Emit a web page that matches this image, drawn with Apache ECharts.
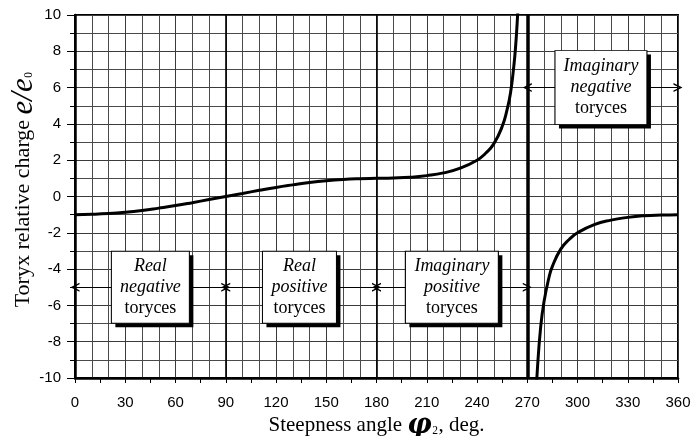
<!DOCTYPE html>
<html>
<head>
<meta charset="utf-8">
<script src="https://cdn.jsdelivr.net/npm/echarts@6/dist/echarts.min.js"></script>
<style>
  html, body { margin: 0; padding: 0; background: #fff; }
  #chart { width: 690px; height: 436px; }
</style>
</head>
<body>
<div id="chart"></div>
<script>
// branch left of the 270 deg asymptote
var realAngles = [0, 10, 20, 30, 40, 50, 60, 70, 80, 90, 100, 110, 120, 130, 140, 150, 160, 170, 180,
  190, 200, 210, 220, 230, 240, 245, 250, 255, 258, 260, 262, 263, 264, 265, 266]
var realValues = [-1.0, -0.98, -0.94, -0.87, -0.77, -0.64, -0.5, -0.34, -0.17, 0, 0.17, 0.34, 0.5, 0.64, 0.77, 0.87, 0.94, 0.98, 1.0,
  1.02, 1.06, 1.15, 1.3, 1.56, 2.0, 2.37, 2.9, 3.85, 4.8, 5.7, 7.2, 8.2, 9.6, 11.5, 14.3]
// branch right of the asymptote
var imagAngles = [274, 275, 276, 278, 280, 283, 285, 290, 295, 300, 310, 320, 330, 340, 350, 360]
var imagValues = [-14.3, -11.5, -9.6, -7.2, -5.8, -4.45, -3.85, -2.9, -2.37, -2.0, -1.55, -1.3, -1.15, -1.06, -1.02, -1.0]

var xTicks = [0, 30, 60, 90, 120, 150, 180, 210, 240, 270, 300, 330, 360]
var yTicks = [-10, -8, -6, -4, -2, 0, 2, 4, 6, 8, 10]

// region annotations: [x, y, line1, line2, line3]
var regionBoxes = [
  [45, -5, 'Real', 'negative', 'toryces'],
  [134, -5, 'Real', 'positive', 'toryces'],
  [225, -5, 'Imaginary', 'positive', 'toryces'],
  [314, 6, 'Imaginary', 'negative', 'toryces']
]
var boxSizes = [[78, 72], [74, 72], [93, 72], [92, 74]]
var regionSpans = [[0, 90, -5], [90, 180, -5], [180, 270, -5], [270, 360, 6]]

function pairs(xs, ys) {
  return xs.map(function(x, i) { return [x, ys[i]] })
}

var openArrow = 'path://M5,0 L10,10 L8.3,10 L5,3.4 L1.7,10 L0,10 Z'

var chart = echarts.init(document.getElementById('chart'))

var labelRich = {
  i: { fontFamily: 'Liberation Serif', fontStyle: 'italic', fontSize: 18, lineHeight: 21, color: '#000' },
  n: { fontFamily: 'Liberation Serif', fontSize: 18, lineHeight: 21, color: '#000' }
}

chart.setOption({
  animation: false,
  grid: {
    left: 75,
    right: 12,
    top: 15,
    bottom: 58,
    outerBoundsMode: 'none',
    show: true,
    borderColor: '#000',
    borderWidth: 2
  },
  xAxis: [
    {
      type: 'value',
      min: 0,
      max: 360,
      interval: 30,
      name: '{t|Steepness angle }{p|\u03c6}{s|\u2082}{t|, deg.}',
      nameLocation: 'middle',
      nameGap: 34,
      nameMoveOverlap: false,
      nameTextStyle: {
        rich: {
          t: { fontFamily: 'Liberation Serif', fontSize: 21, color: '#000' },
          p: { fontFamily: 'DejaVu Serif', fontStyle: 'italic', fontWeight: 'bold', fontSize: 27, color: '#000' },
          s: { fontFamily: 'Liberation Serif', fontSize: 19, color: '#000' }
        }
      },
      axisLine: { onZero: false, lineStyle: { color: '#000', width: 2.5 } },
      axisTick: { show: false },
      axisLabel: {
        margin: 17,
        color: '#000',
        fontFamily: 'Liberation Sans',
        fontSize: 15,
        formatter: function(v) { return xTicks.indexOf(v) >= 0 ? String(v) : '' }
      },
      splitLine: { show: true, lineStyle: { color: '#3a3a3a', width: 1 } },
      minorTick: { show: false, splitNumber: 3 },
      minorSplitLine: { show: true, lineStyle: { color: '#4a4a4a', width: 1 } }
    },
    {
      type: 'value',
      min: 0,
      max: 360,
      interval: 15,
      position: 'bottom',
      axisLine: { show: false, onZero: false },
      axisLabel: { show: false },
      splitLine: { show: false },
      axisTick: { show: true, inside: false, length: 5, lineStyle: { color: '#000', width: 1 } }
    }
  ],
  yAxis: {
    type: 'value',
    min: -10,
    max: 10,
    interval: 2,
    name: '{t|Toryx relative charge }{e|e/e}{s|\u2080}',
    nameLocation: 'middle',
    nameGap: 36,
    nameMoveOverlap: false,
    nameRotate: 90,
    nameTextStyle: {
      padding: [0, 0, 0, 14],
      rich: {
        t: { fontFamily: 'Liberation Serif', fontSize: 22, color: '#000' },
        e: { fontFamily: 'Liberation Serif', fontStyle: 'italic', fontSize: 31, color: '#000' },
        s: { fontFamily: 'Liberation Serif', fontSize: 19, color: '#000' }
      }
    },
    axisLine: { show: true, onZero: false, lineStyle: { color: '#000', width: 2.5 } },
    axisTick: { show: true, length: 8, lineStyle: { color: '#000' } },
    minorTick: { show: true, splitNumber: 2, length: 5, lineStyle: { color: '#000' } },
    axisLabel: {
      margin: 14,
      color: '#000',
      fontFamily: 'Liberation Sans',
      fontSize: 15,
      formatter: function(v) { return yTicks.indexOf(v) >= 0 ? String(v) : '' }
    },
    splitLine: { show: true, lineStyle: { color: '#3a3a3a', width: 1 } },
    minorSplitLine: { show: true, lineStyle: { color: '#4a4a4a', width: 1 } }
  },
  series: [
    {
      type: 'line',
      data: pairs(realAngles, realValues),
      showSymbol: false,
      smooth: 0.5,
      clip: true,
      lineStyle: { color: '#000', width: 3 },
      z: 4,
      markLine: {
        silent: true,
        symbol: ['none', 'none'],
        label: { show: false },
        data: [
          { xAxis: 90, lineStyle: { color: '#000', width: 1.6, type: 'solid' } },
          { xAxis: 180, lineStyle: { color: '#000', width: 1.6, type: 'solid' } },
          { xAxis: 270, lineStyle: { color: '#000', width: 3.5, type: 'solid' } }
        ]
      }
    },
    {
      type: 'line',
      data: pairs(imagAngles, imagValues),
      showSymbol: false,
      smooth: 0.5,
      clip: true,
      lineStyle: { color: '#000', width: 3 },
      z: 4
    },
    {
      type: 'line',
      data: [],
      z: 3,
      markLine: {
        silent: true,
        symbol: [openArrow, openArrow],
        symbolSize: [9, 9],
        label: { show: false },
        lineStyle: { color: '#000', width: 1, type: 'solid' },
        data: regionSpans.map(function(s) {
          return [{ coord: [s[0], s[2]] }, { coord: [s[1], s[2]] }]
        })
      }
    },
    {
      // drop shadow behind each box
      type: 'line',
      data: [],
      z: 5,
      markPoint: {
        silent: true,
        symbol: 'rect',
        symbolOffset: [4, 4],
        itemStyle: { color: '#000' },
        label: { show: false },
        data: regionBoxes.map(function(b, i) {
          return { coord: [b[0], b[1]], symbolSize: boxSizes[i] }
        })
      }
    },
    {
      type: 'line',
      data: [],
      z: 6,
      markPoint: {
        silent: true,
        symbol: 'rect',
        itemStyle: { color: '#fff', borderColor: '#000', borderWidth: 1 },
        label: { show: true, position: 'inside', rich: labelRich },
        data: regionBoxes.map(function(b, i) {
          return {
            coord: [b[0], b[1]],
            symbolSize: boxSizes[i],
            label: { formatter: '{i|' + b[2] + '}\n{i|' + b[3] + '}\n{n|' + b[4] + '}' }
          }
        })
      }
    }
  ]
})
</script>
</body>
</html>
